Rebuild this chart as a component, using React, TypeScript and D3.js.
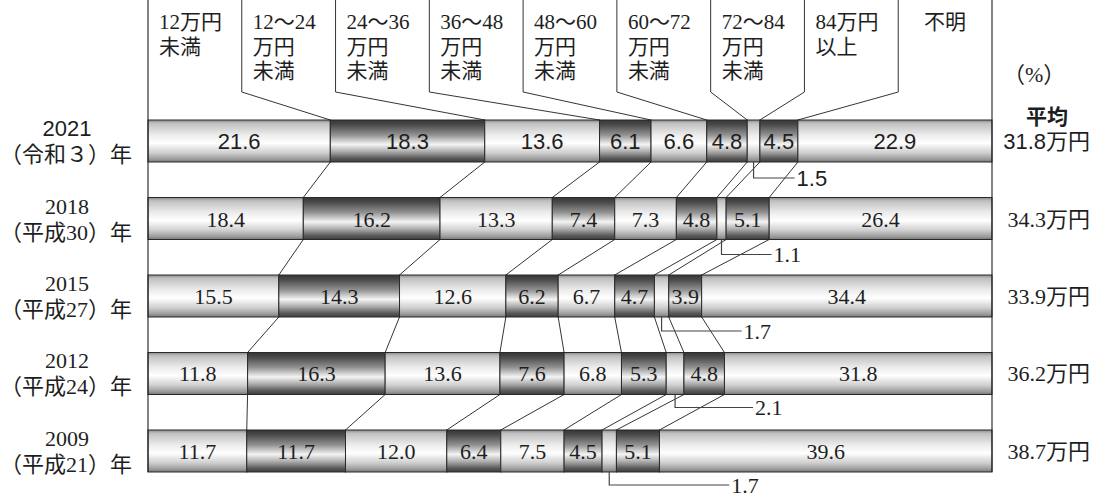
import React from 'react';
import * as d3 from 'd3';

// 所得階級（月額）の区分
const bandLabels: string[][] = [
  ['12万円', '未満'],
  ['12〜24', '万円', '未満'],
  ['24〜36', '万円', '未満'],
  ['36〜48', '万円', '未満'],
  ['48〜60', '万円', '未満'],
  ['60〜72', '万円', '未満'],
  ['72〜84', '万円', '未満'],
  ['84万円', '以上'],
  ['不明'],
];

const years = ['2021', '2018', '2015', '2012', '2009'];
const eras = ['（令和３）', '（平成30）', '（平成27）', '（平成24）', '（平成21）'];

// 構成比（%）
const share2021 = [21.6, 18.3, 13.6, 6.1, 6.6, 4.8, 1.5, 4.5, 22.9];
const share2018 = [18.4, 16.2, 13.3, 7.4, 7.3, 4.8, 1.1, 5.1, 26.4];
const share2015 = [15.5, 14.3, 12.6, 6.2, 6.7, 4.7, 1.7, 3.9, 34.4];
const share2012 = [11.8, 16.3, 13.6, 7.6, 6.8, 5.3, 2.1, 4.8, 31.8];
const share2009 = [11.7, 11.7, 12.0, 6.4, 7.5, 4.5, 1.7, 5.1, 39.6];
const shares = [share2021, share2018, share2015, share2012, share2009];

// 平均（万円）
const averages = ['31.8', '34.3', '33.9', '36.2', '38.7'];

const SERIF = "'Liberation Serif', 'Noto Sans CJK JP', serif";
const SANS = "'Liberation Sans', 'Noto Sans CJK JP', sans-serif";
const INK = '#1e1e1e';

const W = 1100;
const H = 497;
const LEFT = 148;
const RIGHT = 992;
const HEADER_BREAK = 92;
const SMALL = 6; // 72〜84万円の細い区分は引き出し線で表示
const calloutLen = [41, 50, 80, 78, 120];
const calloutDrop = [16, 15, 14, 13, 13];

export default function App() {
  const x = d3.scaleLinear().domain([0, 100]).range([LEFT, RIGHT]);
  const y = d3.scaleBand<string>().domain(years).range([120, 472]).paddingInner(0.458).paddingOuter(0);
  const bw = y.bandwidth();
  const col = d3
    .scaleBand<number>()
    .domain(d3.range(bandLabels.length))
    .range([LEFT, RIGHT]);

  const rows = shares.map((vals, r) => {
    const cum = d3.cumsum(vals);
    const segs = vals.map((v, i) => {
      const s = i === 0 ? 0 : cum[i - 1];
      const x0 = x(s);
      const x1 = i === vals.length - 1 ? x(100) : x(s + v);
      return { v, i, x0, x1 };
    });
    const bounds = segs.slice(1).map((s) => s.x0);
    return { year: years[r], top: y(years[r]) as number, segs, bounds };
  });

  const fmt = d3.format('.1f');

  return (
    <svg
      width={W}
      height={H}
      viewBox={`0 0 ${W} ${H}`}
      style={{ position: 'absolute', left: 0, top: 0, background: '#fff' }}
    >
      <defs>
        <linearGradient id="gLight" x1="0" y1="0" x2="0" y2="1">
          <stop offset="0" stopColor="#8a8a8a" />
          <stop offset="0.08" stopColor="#c0c0c0" />
          <stop offset="0.35" stopColor="#ebebeb" />
          <stop offset="0.55" stopColor="#ffffff" />
          <stop offset="0.78" stopColor="#cfcfcf" />
          <stop offset="0.93" stopColor="#9c9c9c" />
          <stop offset="1" stopColor="#767676" />
        </linearGradient>
        <linearGradient id="gDark" x1="0" y1="0" x2="0" y2="1">
          <stop offset="0" stopColor="#353535" />
          <stop offset="0.12" stopColor="#4c4c4c" />
          <stop offset="0.36" stopColor="#939393" />
          <stop offset="0.58" stopColor="#f4f4f4" />
          <stop offset="0.76" stopColor="#a8a8a8" />
          <stop offset="0.9" stopColor="#5e5e5e" />
          <stop offset="1" stopColor="#3c3c3c" />
        </linearGradient>
      </defs>

      {/* 帯グラフ */}
      {rows.map((row) => (
        <g key={row.year}>
          {row.segs.map((s) => (
            <rect
              key={s.i}
              x={s.x0}
              y={row.top}
              width={s.x1 - s.x0}
              height={bw}
              fill={s.i % 2 === 1 ? 'url(#gDark)' : 'url(#gLight)'}
              stroke="#2a2a2a"
              strokeWidth={1}
            />
          ))}
        </g>
      ))}

      {/* 年次間の区分をつなぐ線 */}
      {rows.slice(0, -1).map((row, r) => {
        const next = rows[r + 1];
        return row.bounds.map((bx, k) => (
          <line
            key={`c${r}-${k}`}
            x1={bx}
            y1={row.top + bw}
            x2={next.bounds[k]}
            y2={next.top}
            stroke={INK}
            strokeWidth={0.9}
          />
        ));
      })}

      {/* 見出し欄の仕切り線 */}
      {d3.range(1, bandLabels.length).map((i) => {
        const cx = col(i) as number;
        const bx = rows[0].bounds[i - 1];
        return (
          <path
            key={`h${i}`}
            d={`M${cx},0 L${cx},${HEADER_BREAK} L${bx},${rows[0].top}`}
            fill="none"
            stroke={INK}
            strokeWidth={0.9}
          />
        );
      })}

      {/* 外枠 */}
      <line x1={LEFT} y1={0} x2={LEFT} y2={472} stroke={INK} strokeWidth={1.1} />
      <line x1={RIGHT} y1={0} x2={RIGHT} y2={472} stroke={INK} strokeWidth={1.1} />

      {/* 見出し */}
      {bandLabels.map((lines, i) => {
        const c0 = col(i) as number;
        const last = i === bandLabels.length - 1;
        return (
          <text
            key={`t${i}`}
            fontFamily={SERIF}
            fontSize={21}
            fill={INK}
            textAnchor={last ? 'middle' : 'start'}
          >
            {lines.map((ln, j) => (
              <tspan key={j} x={last ? c0 + col.bandwidth() / 2 : c0 + 11} y={29 + j * 24.5}>
                {ln}
              </tspan>
            ))}
          </text>
        );
      })}

      {/* 区分内の数値 */}
      {rows.map((row, r) => {
        const ff = r === 0 ? SANS : SERIF;
        const cy = row.top + bw / 2;
        return (
          <g key={`l${row.year}`} fontFamily={ff} fontSize={22} fill={INK}>
            {row.segs
              .filter((s) => s.i !== SMALL)
              .map((s) => (
                <text key={s.i} x={(s.x0 + s.x1) / 2} y={cy + 8} textAnchor="middle">
                  {fmt(s.v)}
                </text>
              ))}
          </g>
        );
      })}

      {/* 細い区分の引き出し線 */}
      {rows.map((row, r) => {
        const s = row.segs[SMALL];
        const cx = (s.x0 + s.x1) / 2;
        const ly = row.top + bw + calloutDrop[r];
        const ex = cx + calloutLen[r];
        return (
          <g key={`o${row.year}`}>
            <path
              d={`M${cx},${row.top + bw} L${cx},${ly} L${ex},${ly}`}
              fill="none"
              stroke="#444"
              strokeWidth={1.2}
            />
            <text
              x={ex + 2}
              y={ly + 7.5}
              fontFamily={r === 0 ? SANS : SERIF}
              fontSize={22}
              fill={INK}
            >
              {fmt(s.v)}
            </text>
          </g>
        );
      })}

      {/* 年次ラベル */}
      {rows.map((row, r) => {
        const cy = row.top + bw / 2;
        const ff = r === 0 ? SANS : SERIF;
        return (
          <g key={`y${row.year}`} fontFamily={ff} fill={INK}>
            <text x={67} y={cy - 5} textAnchor="middle" fontSize={22}>
              {row.year}
            </text>
            <text x={132} y={cy + 21} textAnchor="end" fontSize={22}>
              {eras[r]}年
            </text>
          </g>
        );
      })}

      {/* 単位と平均 */}
      <text x={1003} y={82} fontFamily={SERIF} fontSize={22} fill={INK}>
        （%）
      </text>
      <text x={1047} y={124} textAnchor="middle" fontFamily={SANS} fontSize={21} fontWeight="bold" fill={INK}>
        平均
      </text>
      {rows.map((row, r) => {
        const cy = row.top + bw / 2;
        return (
          <text
            key={`a${row.year}`}
            x={1090}
            y={r === 0 ? 149 : cy + 8}
            textAnchor="end"
            fontFamily={r === 0 ? SANS : SERIF}
            fontSize={22}
            fill={INK}
          >
            {averages[r]}万円
          </text>
        );
      })}
    </svg>
  );
}
